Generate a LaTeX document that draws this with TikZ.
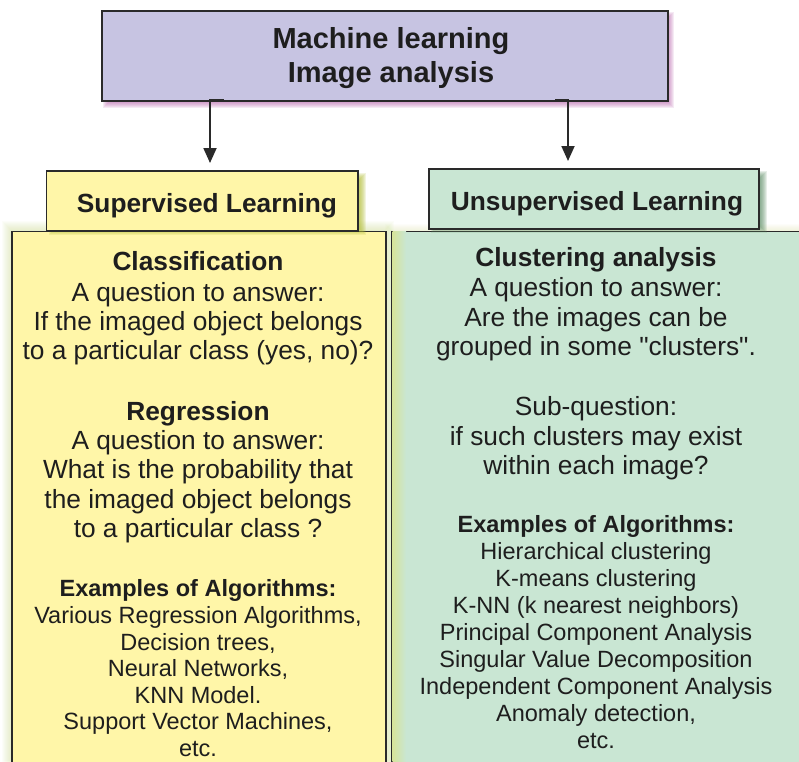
\documentclass[tikz,border=0pt]{standalone}
\usepackage{fontspec}
\setmainfont{Liberation Sans}[Ligatures=TeXOff]
\usetikzlibrary{arrows.meta}
\definecolor{topfill}{HTML}{C7C4E2}
\definecolor{topshadow}{HTML}{B45AA8}
\definecolor{yelfill}{HTML}{FFF6A8}
\definecolor{yelshadow}{HTML}{B3BE35}
\definecolor{grnfill}{HTML}{C9E6D3}
\definecolor{grnshadow}{HTML}{5E8F66}
\definecolor{edgec}{HTML}{2A2A2A}
\definecolor{textc}{HTML}{1E1E1E}
\definecolor{glowc}{HTML}{C2D870}
\definecolor{edgegrad}{HTML}{D6E49A}
\newcommand\hdf{\fontsize{26.3}{29}\selectfont\bfseries}
\newcommand\bdf{\fontsize{26.3}{29}\selectfont}
\newcommand\exf{\fontsize{23.5}{26}\selectfont\bfseries}
\newcommand\lsf{\fontsize{23.5}{26}\selectfont}
\newcommand\tpf{\fontsize{29}{33}\selectfont\bfseries}
% x0 y0 x1 y1 colour opacity radius
\newcommand\softshadow[7]{%
  \foreach \r in {-#7,...,#7}{\fill[#5,opacity=#6] (#1-\r,#2-\r) rectangle (#3+\r,#4+\r);}}
\begin{document}
\begin{tikzpicture}[x=1pt,y=-1pt,
  box/.style={draw=edgec,line width=1.6pt,inner sep=0pt,anchor=north west},
  txt/.style={anchor=base,inner sep=0pt,text=textc},
  conn/.style={line width=1.8pt,draw=edgec,-{Triangle[length=15pt,width=13pt]}}]
\clip (0,0) rectangle (799,761);
\fill[white] (0,0) rectangle (799,761);
% glows of the big boxes
\softshadow{11}{230}{385}{800}{glowc}{0.04}{9}
\softshadow{391}{230}{810}{800}{glowc}{0.03}{6}
% big boxes
\node[box,fill=yelfill,minimum width=374pt,minimum height=600pt] (L) at (11,230.5) {};
\node[box,fill=grnfill,minimum width=450pt,minimum height=600pt] (R) at (391.5,230.5) {};
\shade[left color=edgegrad,right color=grnfill] ([xshift=1pt,yshift=-1pt]R.north west) rectangle (406,761);
\draw[edgec,line width=1.6pt] (R.north west) -- (391.5,800);
% top box
\softshadow{106}{15}{671}{105}{topshadow}{0.12}{3}
\node[box,fill=topfill,minimum width=566pt,minimum height=90pt] (top) at (101,10) {};
% label boxes
\softshadow{52}{176}{363}{232}{yelshadow}{0.16}{3}
\node[box,fill=yelfill,minimum width=311.5pt,minimum height=60pt] (sup) at (45.5,170) {};
\softshadow{434}{174}{764}{230}{grnshadow}{0.15}{3}
\node[box,fill=grnfill,minimum width=330pt,minimum height=60pt] (uns) at (428,168) {};
% connectors
\coordinate (a1) at (210,100);
\coordinate (a2) at (568,100);
\draw[conn,shorten >=7pt] ([xshift=14pt]a1) -- (a1) -- (a1 |- sup.north);
\draw[conn,shorten >=7pt] ([xshift=-13pt]a2) -- (a2) -- (a2 |- uns.north);
% texts
\node[txt,font=\tpf] (t1) at (391,48) {Machine learning};
\node[txt,font=\tpf] (t2) at (391,82) {Image analysis};
\node[txt,font=\hdf] (supt) at (207,212) {Supervised Learning};
\node[txt,font=\hdf] (unst) at (597,210) {Unsupervised Learning};
\foreach \ly/\lt [count=\i] in {
  270/{\hdf Classification},
  301/{\bdf A question to answer:},
  330/{\bdf If the imaged object belongs},
  359/{\bdf to a particular class (yes, no)?},
  420/{\hdf Regression},
  449/{\bdf A question to answer:},
  478/{\bdf What is the probability that},
  508/{\bdf the imaged object belongs},
  537/{\bdf to a particular class ?},
  596/{\exf Examples of Algorithms:},
  623/{\lsf Various Regression Algorithms,},
  650/{\lsf Decision trees,},
  676/{\lsf Neural Networks,},
  703/{\lsf KNN Model.},
  729/{\lsf Support Vector Machines,},
  756/{\lsf etc.}}
  {\node[txt] (L\i) at (198,\ly) {\lt};}
\foreach \ly/\lt [count=\i] in {
  266/{\hdf Clustering analysis},
  296/{\bdf A question to answer:},
  326/{\bdf Are the images can be},
  355/{\bdf grouped in some "clusters".},
  415/{\bdf Sub-question:},
  445/{\bdf if such clusters may exist},
  474/{\bdf within each image?},
  532/{\exf Examples of Algorithms:},
  559/{\lsf Hierarchical clustering},
  586/{\lsf K-means clustering},
  613/{\lsf K-NN (k nearest neighbors)},
  640/{\lsf Principal Component Analysis},
  667/{\lsf Singular Value Decomposition},
  694/{\lsf Independent Component Analysis},
  721/{\lsf Anomaly detection,},
  748/{\lsf etc.}}
  {\node[txt] (R\i) at (596,\ly) {\lt};}
\end{tikzpicture}
\end{document}
